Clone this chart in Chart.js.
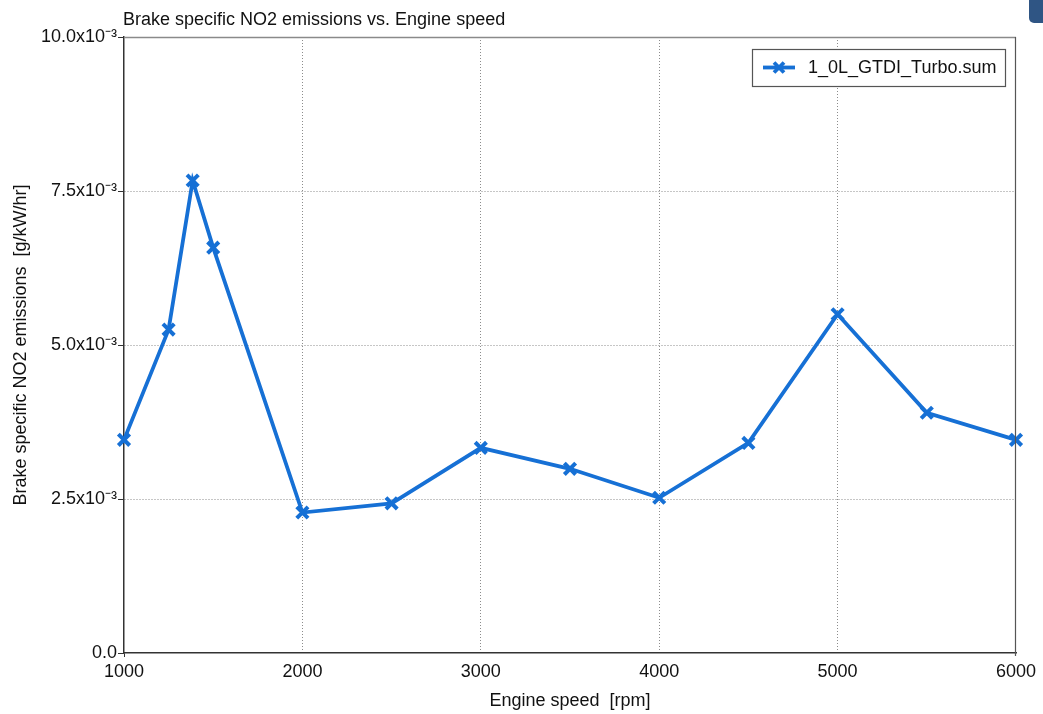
<!DOCTYPE html>
<html>
<head>
<meta charset="utf-8">
<script src="https://cdn.jsdelivr.net/npm/chart.js@4/dist/chart.umd.min.js"></script>
<style>
  html, body { margin: 0; padding: 0; background: #fff; overflow: hidden; }
  #wrap { position: relative; width: 1043px; height: 714px; }
  #badge { position: absolute; left: 1029px; top: -4px; width: 22px; height: 27px;
           border-radius: 5px; background: #2f5584; }
</style>
</head>
<body>
<div id="wrap">
  <canvas id="c" width="1043" height="714"></canvas>
  <div id="badge"></div>
</div>
<script>
// Engine speed sweep [rpm]
const engineSpeed = [1000, 1250, 1385, 1500, 2000, 2500, 3000, 3500, 4000, 4500, 5000, 5500, 6000];
// Brake specific NO2 emissions [g/kW/hr]
const bsNO2 = [0.00346, 0.00525, 0.00767, 0.00658, 0.00228, 0.00243, 0.00333, 0.00299, 0.00252, 0.00341, 0.00550, 0.00390, 0.00346];

const seriesName = '1_0L_GTDI_Turbo.sum';
const chartTitle = 'Brake specific NO2 emissions vs. Engine speed';
const xTitle = 'Engine speed  [rpm]';
const yTitle = 'Brake specific NO2 emissions  [g/kW/hr]';
const xTicks = [1000, 2000, 3000, 4000, 5000, 6000];
const yTicks = [0, 0.0025, 0.005, 0.0075, 0.01];

const lineColor = '#1670d5';
const FONT = '"Liberation Sans", Arial, Helvetica, sans-serif';

function fmtY(v) {
  if (Math.abs(v) < 1e-12) return '0.0';
  return (v * 1000).toFixed(1) + 'x10\u207B\u00B3';
}

// Frame, title and legend drawn over the plot
const decorations = {
  id: 'decorations',
  afterDatasetsDraw(chart) {
    const { ctx, chartArea: a } = chart;
    ctx.save();
    // top and right edges of the plot frame
    ctx.lineWidth = 1.5;
    ctx.strokeStyle = '#8a8a8a';
    ctx.beginPath();
    ctx.moveTo(a.left, a.top + 0.5);
    ctx.lineTo(a.right, a.top + 0.5);
    ctx.stroke();
    ctx.strokeStyle = '#555';
    ctx.lineWidth = 1.2;
    ctx.beginPath();
    ctx.moveTo(a.right - 0.5, a.top);
    ctx.lineTo(a.right - 0.5, a.bottom + 3);
    ctx.stroke();
    ctx.restore();
  },
  afterDraw(chart) {
    const { ctx, chartArea: a } = chart;
    ctx.save();
    // title, aligned with the plot's left edge
    ctx.font = '18px ' + FONT;
    ctx.fillStyle = '#111';
    ctx.textAlign = 'left';
    ctx.textBaseline = 'middle';
    ctx.fillText(chartTitle, a.left - 1, 20);

    // legend box
    const bx = 752, by = 49, bw = 253, bh = 37;
    ctx.fillStyle = '#fff';
    ctx.fillRect(bx, by, bw, bh);
    ctx.strokeStyle = '#555';
    ctx.lineWidth = 1.2;
    ctx.strokeRect(bx + 0.5, by + 0.5, bw, bh);
    const ly = by + bh / 2;
    ctx.strokeStyle = lineColor;
    ctx.lineWidth = 3.8;
    ctx.lineCap = 'butt';
    ctx.beginPath();
    ctx.moveTo(bx + 11, ly);
    ctx.lineTo(bx + 43, ly);
    ctx.stroke();
    const mx = bx + 27, r = 5;
    ctx.beginPath();
    ctx.moveTo(mx - r, ly - r); ctx.lineTo(mx + r, ly + r);
    ctx.moveTo(mx + r, ly - r); ctx.lineTo(mx - r, ly + r);
    ctx.stroke();
    ctx.fillStyle = '#111';
    ctx.font = '18px ' + FONT;
    ctx.textBaseline = 'middle';
    ctx.fillText(seriesName, bx + 56, ly + 1);
    ctx.restore();
  }
};

const points = engineSpeed.map((x, i) => ({ x, y: bsNO2[i] }));

new Chart(document.getElementById('c'), {
  type: 'line',
  data: {
    datasets: [{
      label: seriesName,
      data: points,
      borderColor: lineColor,
      backgroundColor: lineColor,
      borderWidth: 3.8,
      pointStyle: 'crossRot',
      pointRadius: 8,
      pointBorderWidth: 4,
      pointHoverRadius: 8,
      tension: 0,
      clip: false
    }]
  },
  options: {
    responsive: false,
    animation: false,
    events: [],
    layout: { padding: { top: 37, right: 27, left: 0, bottom: 0 } },
    plugins: {
      legend: { display: false },
      title: { display: false },
      tooltip: { enabled: false }
    },
    scales: {
      x: {
        type: 'linear',
        min: 1000,
        max: 6000,
        afterFit: s => { s.height = 61; },
        afterBuildTicks: s => { s.ticks = xTicks.map(v => ({ value: v })); },
        ticks: {
          font: { family: FONT, size: 18 },
          color: '#111',
          padding: 4,
          maxRotation: 0,
          callback: v => String(v)
        },
        grid: {
          color: c => (c.tick && (c.tick.value === 1000 || c.tick.value === 6000)) ? 'rgba(0,0,0,0)' : '#8c8c8c',
          lineWidth: 1,
          drawTicks: true,
          tickLength: 4,
          tickColor: c => (c.tick && c.tick.value === 1000) ? '#333' : 'rgba(0,0,0,0)'
        },
        border: { display: true, color: '#333', width: 1.5, dash: [1, 2] },
        title: {
          display: true,
          text: xTitle,
          font: { family: FONT, size: 18 },
          color: '#111',
          padding: { top: 0, bottom: 2 }
        }
      },
      y: {
        type: 'linear',
        min: 0,
        max: 0.01,
        afterFit: s => { s.width = 124; },
        afterBuildTicks: s => { s.ticks = yTicks.map(v => ({ value: v })); },
        ticks: {
          font: { family: FONT, size: 18 },
          color: '#111',
          padding: 1,
          callback: v => fmtY(v)
        },
        grid: {
          color: c => (c.tick && (c.tick.value === 0 || c.tick.value === 0.01)) ? 'rgba(0,0,0,0)' : '#8c8c8c',
          lineWidth: 1,
          drawTicks: true,
          tickLength: 6,
          tickColor: '#333'
        },
        border: { display: true, color: '#333', width: 1.5, dash: [1, 2] },
        title: {
          display: true,
          text: yTitle,
          font: { family: FONT, size: 18 },
          color: '#111',
          padding: { top: 10, bottom: 0 }
        }
      }
    }
  },
  plugins: [decorations]
});
</script>
</body>
</html>
